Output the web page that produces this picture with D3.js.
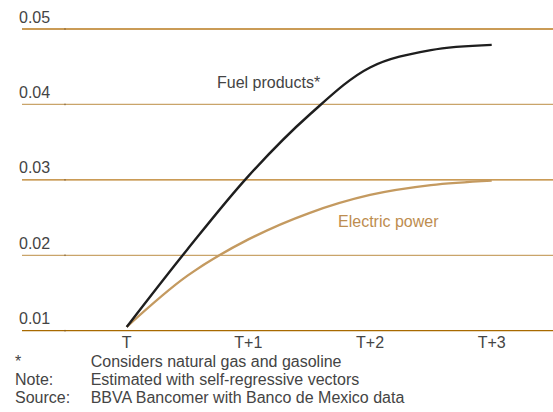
<!DOCTYPE html>
<html>
<head>
<meta charset="utf-8">
<script src="https://cdn.jsdelivr.net/npm/d3@7/dist/d3.min.js"></script>
<style>
  body { margin: 0; background: #fff; }
  svg text { font-family: "Liberation Sans", Arial, sans-serif; }
</style>
</head>
<body>
<svg id="chart" width="553" height="412"></svg>
<script>
// steps T .. T+3, read at half-step intervals
var steps = [0, 0.5, 1, 1.5, 2, 2.5, 3];
var tickLabels = ['T', 'T+1', 'T+2', 'T+3'];
var yTicks = [0.01, 0.02, 0.03, 0.04, 0.05];
var fuel = [0.0105, 0.0208, 0.0305, 0.0386, 0.0449, 0.0472, 0.0479];
var electric = [0.0105, 0.0173, 0.0221, 0.0256, 0.0280, 0.0293, 0.0299];
var notes = [
  ['*', 'Considers natural gas and gasoline'],
  ['Note:', 'Estimated with self-regressive vectors'],
  ['Source:', 'BBVA Bancomer with Banco de Mexico data']
];

var svg = d3.select('#chart');

var x = d3.scaleLinear().domain([0, 3]).range([126.7, 491.7]);
var y = d3.scaleLinear().domain([0.01, 0.05]).range([330.7, 29]);

var gridColor = function(d, i) {
  if (i === 0) return '#a86a00';
  return i % 2 ? '#c9a46a' : '#b87a1e';
};

// horizontal grid lines
var grid = svg.append('g');
grid.selectAll('line')
  .data(yTicks)
  .enter()
  .append('line')
  .attr('x1', 22)
  .attr('x2', 553)
  .attr('y1', function(d) { return y(d); })
  .attr('y2', function(d) { return y(d); })
  .style('stroke', gridColor)
  .style('stroke-width', 1.3);

// little tick marks on the grid
grid.selectAll('.tick')
  .data(yTicks)
  .enter()
  .append('line')
  .attr('x1', 65)
  .attr('x2', 65)
  .attr('y1', function(d) { return y(d) - 0.8; })
  .attr('y2', function(d) { return y(d) + 0.8; })
  .style('stroke', '#7a5a30')
  .style('stroke-width', 1);

// y labels
svg.append('g').selectAll('text')
  .data(yTicks)
  .enter()
  .append('text')
  .attr('x', 19)
  .attr('y', function(d) { return y(d) - 6.5; })
  .style('font-size', '16px')
  .style('fill', '#444')
  .text(function(d) { return d3.format('.2f')(d); });

// x labels
svg.append('g').selectAll('text')
  .data(tickLabels)
  .enter()
  .append('text')
  .attr('x', function(d, i) { return x(i); })
  .attr('y', 348)
  .attr('text-anchor', 'middle')
  .style('font-size', '16px')
  .style('fill', '#444')
  .text(function(d) { return d; });

var line = d3.line()
  .x(function(d, i) { return x(steps[i]); })
  .y(function(d) { return y(d); })
  .curve(d3.curveCatmullRom.alpha(0.5));

svg.append('path')
  .datum(electric)
  .attr('d', line)
  .style('fill', 'none')
  .style('stroke', '#c49a60')
  .style('stroke-width', 2.4);

svg.append('path')
  .datum(fuel)
  .attr('d', line)
  .style('fill', 'none')
  .style('stroke', '#1e1e1e')
  .style('stroke-width', 2.4);

svg.append('text')
  .attr('x', 217)
  .attr('y', 88)
  .style('font-size', '16px')
  .style('fill', '#444')
  .text('Fuel products*');

svg.append('text')
  .attr('x', 338)
  .attr('y', 227)
  .style('font-size', '16px')
  .style('fill', '#bd8d4f')
  .text('Electric power');

// footnotes
var foot = svg.append('g').selectAll('g')
  .data(notes)
  .enter()
  .append('g')
  .attr('transform', function(d, i) { return 'translate(0,' + (366.5 + i * 18.2) + ')'; });

foot.append('text')
  .attr('x', 15)
  .style('font-size', '16px')
  .style('fill', '#444')
  .text(function(d) { return d[0]; });

foot.append('text')
  .attr('x', 90.7)
  .style('font-size', '16px')
  .style('fill', '#444')
  .text(function(d) { return d[1]; });
</script>
</body>
</html>
